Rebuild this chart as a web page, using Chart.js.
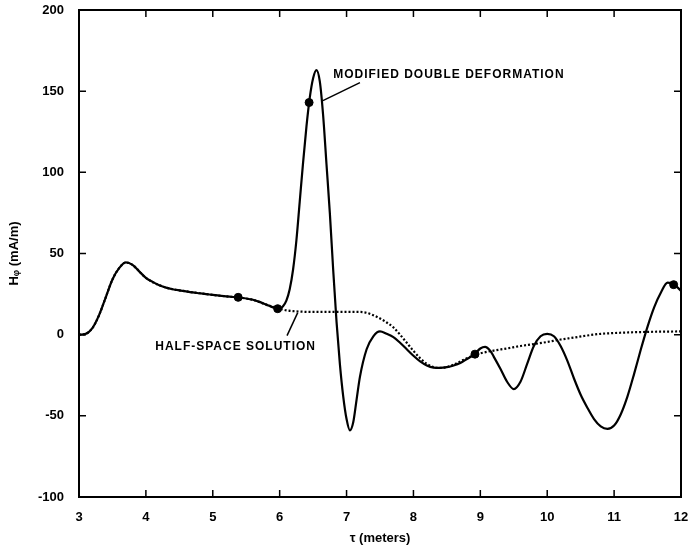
<!DOCTYPE html>
<html>
<head>
<meta charset="utf-8">
<script src="https://cdn.jsdelivr.net/npm/chart.js@4.4.1/dist/chart.umd.min.js"></script>
<style>
  body { margin: 0; background: #fff; }
  canvas { display: block; }
</style>
</head>
<body>
<canvas id="chart" width="689" height="550"></canvas>
<script>
// modified double deformation (solid)
const solidX = [3.0, 3.1, 3.2, 3.3, 3.4, 3.5, 3.6, 3.7, 3.8, 3.9, 4.0, 4.1, 4.2, 4.3, 4.4, 4.5, 4.6, 4.7,
  4.8, 4.9, 5.0, 5.1, 5.2, 5.3, 5.4, 5.5, 5.6, 5.7, 5.8, 5.9, 6.0, 6.05, 6.1, 6.15, 6.2, 6.25, 6.3, 6.35,
  6.4, 6.45, 6.5, 6.55, 6.6, 6.65, 6.7, 6.75, 6.8, 6.85, 6.9, 6.95, 7.0, 7.05, 7.1, 7.15, 7.2, 7.3, 7.4,
  7.5, 7.6, 7.7, 7.8, 7.9, 8.0, 8.1, 8.2, 8.3, 8.4, 8.5, 8.6, 8.7, 8.8, 8.9, 9.0, 9.07, 9.15, 9.2, 9.3,
  9.4, 9.5, 9.6, 9.7, 9.8, 9.9, 10.0, 10.1, 10.2, 10.3, 10.4, 10.5, 10.6, 10.7, 10.8, 10.9, 11.0, 11.1,
  11.2, 11.3, 11.4, 11.5, 11.6, 11.7, 11.8, 11.9, 12.0];
const solidY = [0, 0.5, 4, 12, 23, 34, 41, 44.5, 43, 39, 35, 32.5, 30.5, 29, 28, 27.3, 26.7, 26,
  25.5, 25, 24.5, 24, 23.6, 23.2, 22.8, 22.3, 21.5, 20.2, 18.5, 16.8, 16, 17.5, 21, 28, 40, 58, 82, 106,
  128, 146, 158, 163, 156, 135, 105, 75, 40, 8, -18, -38, -52, -59, -54, -40, -26, -9, -1,
  2, 0.5, -1.5, -5, -9, -13, -16.5, -19, -20.3, -20.5, -20, -19, -17.5, -15, -12.5, -8.5, -7.5, -10, -13.5, -21,
  -29, -33.5, -29, -18, -7, -1, 0.5, -1, -7, -16, -27, -37, -45, -52, -56.5, -58, -56, -49,
  -38, -24, -9, 5, 17, 26, 32, 30.8, 27];

// half-space solution (dotted)
const halfX = [3.0, 3.1, 3.2, 3.3, 3.4, 3.5, 3.6, 3.7, 3.8, 3.9, 4.0, 4.2, 4.4, 4.6, 4.8, 5.0, 5.2, 5.4,
  5.6, 5.8, 6.0, 6.1, 6.2, 6.5, 6.8, 7.0, 7.2, 7.3, 7.4, 7.5, 7.6, 7.7, 7.8, 7.9, 8.0, 8.1, 8.2, 8.3,
  8.4, 8.5, 8.6, 8.7, 8.8, 8.9, 9.0, 9.2, 9.4, 9.6, 9.8, 10.0, 10.2, 10.4, 10.6, 10.8, 11.0, 11.3, 11.6, 12.0];
const halfY = [0, 0.5, 4, 12, 23, 34, 41, 44.5, 43, 39, 35, 30.5, 28, 26.7, 25.5, 24.5, 23.6, 22.8,
  21.5, 18.5, 16, 15, 14.5, 14, 14, 14, 14, 13.5, 12, 10, 7.5, 4.5, 0, -5, -10, -14.5, -18, -20,
  -20.5, -20, -18.5, -16.5, -14.5, -12.8, -11.5, -9.8, -8.5, -7, -5.8, -4.5, -3, -1.8, -0.5, 0.5, 1, 1.5, 1.8, 2];

// marked points
const markX = [5.38, 5.97, 6.44, 8.92, 11.89];
const markY = [23, 16, 143, -12, 30.8];

const xTicks = [3, 4, 5, 6, 7, 8, 9, 10, 11, 12];
const yTicks = [-100, -50, 0, 50, 100, 150, 200];

const labels = [
  { text: "MODIFIED DOUBLE DEFORMATION", x: 6.80, y: 160.2, from: [7.20, 155.3], to: [6.647, 144.2] },
  { text: "HALF-SPACE SOLUTION", x: 4.14, y: -7.4, from: [6.27, 13.6], to: [6.11, -0.6] }
];

const pts = (xs, ys) => xs.map((x, i) => ({ x: x, y: ys[i] }));
const FONT = "'Liberation Sans', Arial, sans-serif";

// frame, inward ticks, annotations
const framePlugin = {
  id: "frame",
  afterDatasetsDraw(chart) {
    const ctx = chart.ctx;
    const a = chart.chartArea;
    const xs = chart.scales.x, ys = chart.scales.y;
    ctx.save();
    ctx.strokeStyle = "#000";
    ctx.lineWidth = 2;
    ctx.strokeRect(a.left, a.top, a.right - a.left, a.bottom - a.top);
    ctx.lineWidth = 1.5;
    ctx.beginPath();
    xTicks.forEach(v => {
      const px = xs.getPixelForValue(v);
      ctx.moveTo(px, a.bottom); ctx.lineTo(px, a.bottom - 7);
      ctx.moveTo(px, a.top); ctx.lineTo(px, a.top + 7);
    });
    yTicks.forEach(v => {
      const py = ys.getPixelForValue(v);
      ctx.moveTo(a.left, py); ctx.lineTo(a.left + 7, py);
      ctx.moveTo(a.right, py); ctx.lineTo(a.right - 7, py);
    });
    ctx.stroke();

    ctx.fillStyle = "#000";
    ctx.font = "bold 12px " + FONT;
    ctx.letterSpacing = "1px";
    ctx.textBaseline = "middle";
    ctx.lineWidth = 1.5;
    labels.forEach(l => {
      ctx.fillText(l.text, xs.getPixelForValue(l.x), ys.getPixelForValue(l.y));
      ctx.beginPath();
      ctx.moveTo(xs.getPixelForValue(l.from[0]), ys.getPixelForValue(l.from[1]));
      ctx.lineTo(xs.getPixelForValue(l.to[0]), ys.getPixelForValue(l.to[1]));
      ctx.stroke();
    });
    ctx.restore();
  }
};

new Chart(document.getElementById("chart"), {
  type: "line",
  data: {
    datasets: [
      {
        label: "Half-space solution",
        data: pts(halfX, halfY),
        borderColor: "#000",
        borderWidth: 2.2,
        borderDash: [2, 2],
        pointRadius: 0,
        cubicInterpolationMode: "monotone",
        fill: false
      },
      {
        label: "Modified double deformation",
        data: pts(solidX, solidY),
        borderColor: "#000",
        borderWidth: 2.2,
        pointRadius: 0,
        cubicInterpolationMode: "monotone",
        fill: false
      },
      {
        label: "Marks",
        data: pts(markX, markY),
        showLine: false,
        pointRadius: 4,
        pointBackgroundColor: "#000",
        pointBorderColor: "#000"
      }
    ]
  },
  options: {
    responsive: false,
    animation: false,
    devicePixelRatio: 1,
    layout: { padding: { left: 0, right: 8, top: 10, bottom: 0 } },
    plugins: { legend: { display: false }, tooltip: { enabled: false } },
    scales: {
      x: {
        type: "linear",
        min: 3,
        max: 12,
        afterFit: s => { s.height = 53; s.paddingLeft = 0; s.paddingRight = 0; },
        afterBuildTicks: s => { s.ticks = xTicks.map(v => ({ value: v })); },
        grid: { display: false, drawTicks: false },
        border: { display: false },
        ticks: { color: "#000", padding: 13, font: { family: FONT, size: 13, weight: "bold" } },
        title: {
          display: true,
          text: "τ (meters)",
          color: "#000",
          padding: { top: 4, bottom: 4 },
          font: { family: FONT, size: 13, weight: "bold" }
        }
      },
      y: {
        type: "linear",
        min: -100,
        max: 200,
        afterFit: s => { s.width = 79; s.paddingTop = 0; s.paddingBottom = 0; },
        afterBuildTicks: s => { s.ticks = yTicks.map(v => ({ value: v })); },
        grid: { display: false, drawTicks: false },
        border: { display: false },
        ticks: { color: "#000", padding: 15, font: { family: FONT, size: 13, weight: "bold" } },
        title: {
          display: true,
          text: "Hᵩ (mA/m)",
          color: "#000",
          padding: { top: 7, bottom: 0 },
          font: { family: FONT, size: 13, weight: "bold" }
        }
      }
    }
  },
  plugins: [framePlugin]
});
</script>
</body>
</html>
